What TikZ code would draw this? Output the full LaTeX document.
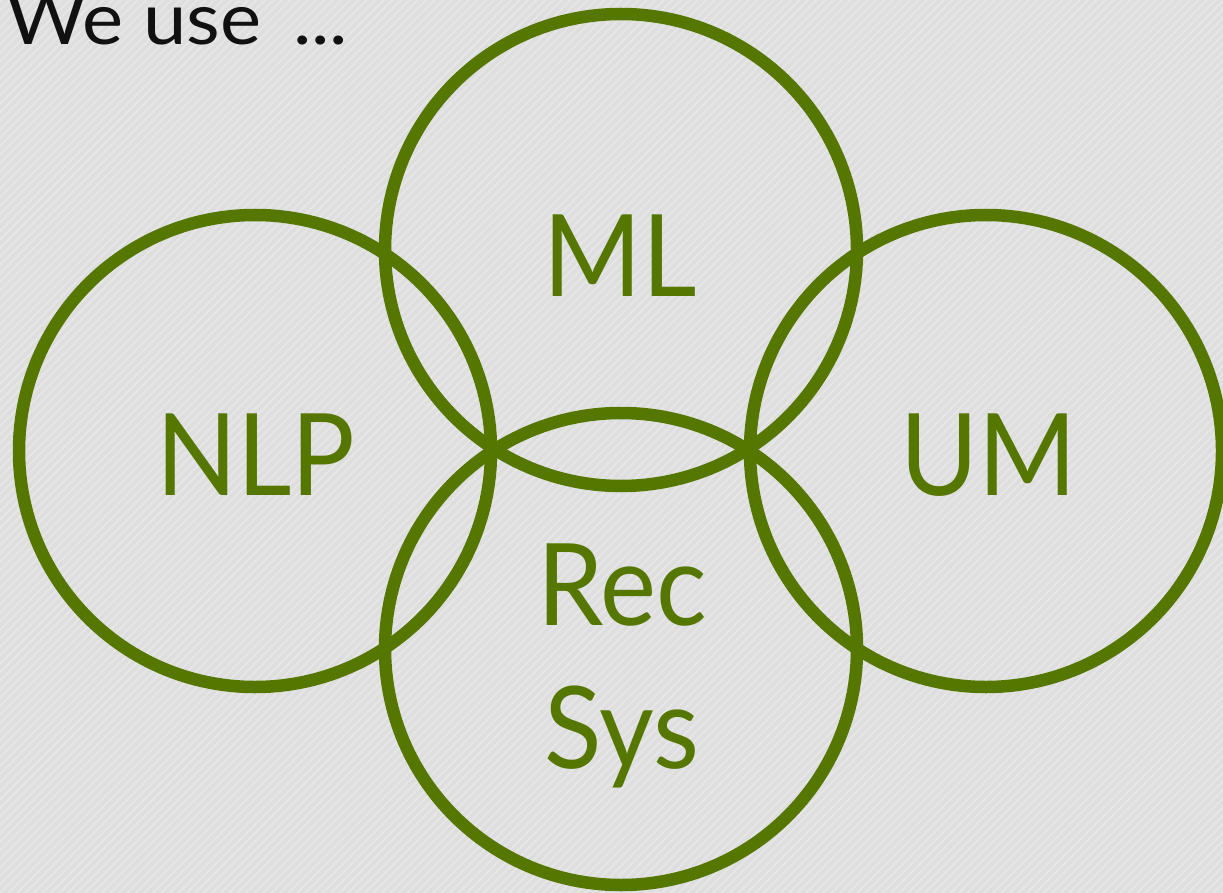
\documentclass[tikz,border=0pt]{standalone}
\usepackage{fontspec}
\setmainfont{Lato}
\newfontfamily\labfont[FakeStretch=0.93]{Lato}
\newfontfamily\titlefont[FakeStretch=1.08]{Lato}
\usetikzlibrary{patterns.meta}
\definecolor{bgc}{RGB}{222,222,222}
\definecolor{stripe}{RGB}{230,230,230}
\definecolor{vgreen}{RGB}{85,119,0}
\definecolor{ink}{RGB}{17,17,17}
\tikzset{
  ring/.style={circle, draw=vgreen, line width=12.5pt, minimum size=472pt, inner sep=0pt},
  lab/.style={text=vgreen, font=\labfont\fontsize{114}{143}\selectfont, inner sep=0pt, anchor=base},
  title/.style={text=ink, font=\titlefont\fontsize{72}{80}\selectfont, inner sep=0pt, anchor=base west}
}
\begin{document}
\begin{tikzpicture}[x=1pt,y=-1pt]
\useasboundingbox (0,0) rectangle (1223,893);
\fill[bgc] (0,0) rectangle (1223,893);
\fill[pattern={Lines[angle=45,distance=6pt,line width=2pt]}, pattern color=stripe] (0,0) rectangle (1223,893);
\node[title] (t) at (6,45) {We use \,...};
\node[ring] (ml) at (621,250) {};
\node[ring] (nlp) at (255,451) {};
\node[ring] (um) at (986,451) {};
\node[ring] (rs) at (621,649) {};
\node[lab] (mlt) at (620,297) {ML};
\node[lab] (nlpt) at (256,495) {NLP};
\node[lab] (umt) at (989,495) {UM};
\node[lab] (rect) at (622,625) {Rec};
\node[lab] (syst) at (622,768) {Sys};
\end{tikzpicture}
\end{document}
